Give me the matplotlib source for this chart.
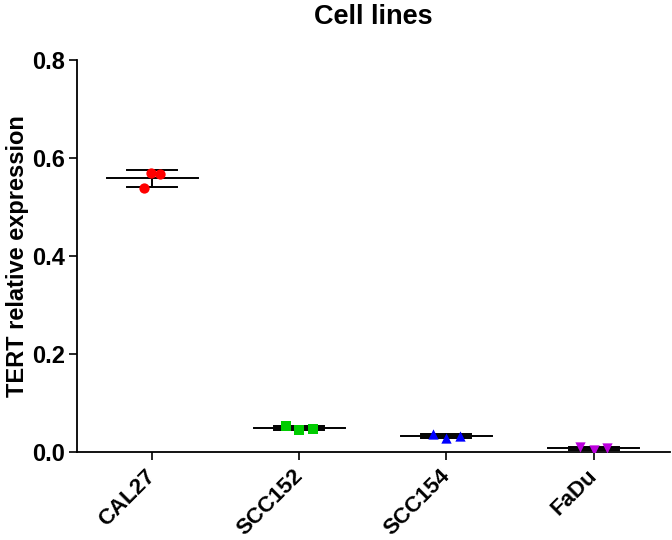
import matplotlib
matplotlib.use("Agg")
import matplotlib.pyplot as plt
import numpy as np

plt.rcParams['font.family'] = ['Liberation Sans', 'DejaVu Sans']

categories = ["CAL27", "SCC152", "SCC154", "FaDu"]
values = [
    [0.539, 0.569, 0.567],
    [0.053, 0.045, 0.047],
    [0.037, 0.029, 0.033],
    [0.010, 0.004, 0.008],
]
jitter = [
    [-0.055, -0.007, 0.05],
    [-0.09, 0.0, 0.09],
    [-0.09, 0.0, 0.09],
    [-0.09, 0.0, 0.09],
]
colors = ["#ff0000", "#00cc00", "#0000ff", "#bb00dd"]
markers = ["o", "s", "^", "v"]
yticks = [0.0, 0.2, 0.4, 0.6, 0.8]

fig = plt.figure(figsize=(6.72, 5.4), dpi=100)
ax = fig.add_axes([0.115, 0.163, 0.882, 0.726])

for i, (vals, jit, c, m) in enumerate(zip(values, jitter, colors, markers)):
    vals = np.array(vals)
    mean = vals.mean()
    sd = vals.std(ddof=1)
    ax.plot([i - 0.31, i + 0.31], [mean, mean], color="black", lw=1.4, zorder=2)
    ax.plot([i - 0.17, i + 0.17], [mean + sd, mean + sd], color="black", lw=1.4, zorder=2)
    ax.plot([i - 0.17, i + 0.17], [mean - sd, mean - sd], color="black", lw=1.4, zorder=2)
    ax.plot([i, i], [mean - sd, mean + sd], color="black", lw=1.4, zorder=2)
    ax.scatter([i + o for o in jit], vals, color=c, marker=m, s=55, zorder=3, linewidths=0)

ax.set_xlim(-0.51, 3.52)
ax.set_ylim(0, 0.8)
ax.set_yticks(yticks)
ax.set_yticklabels([f"{t:.1f}" for t in yticks], fontsize=17, fontweight="bold")
ax.set_xticks(range(len(categories)))
ax.set_xticklabels(categories, rotation=45, ha="right", va="center",
                   rotation_mode="anchor", fontsize=16, fontweight="bold")
ax.tick_params(axis="x", length=6, width=1.2, pad=9)
ax.tick_params(axis="y", length=6, width=1.2, pad=3)
ax.spines["top"].set_visible(False)
ax.spines["right"].set_visible(False)
ax.spines["left"].set_linewidth(1.3)
ax.spines["bottom"].set_linewidth(1.3)
ax.set_ylabel("TERT relative expression", fontsize=17, fontweight="bold", labelpad=2)
ax.set_title("Cell lines", fontsize=19.5, fontweight="bold", pad=26)

fig.savefig("out.png", dpi=100)
